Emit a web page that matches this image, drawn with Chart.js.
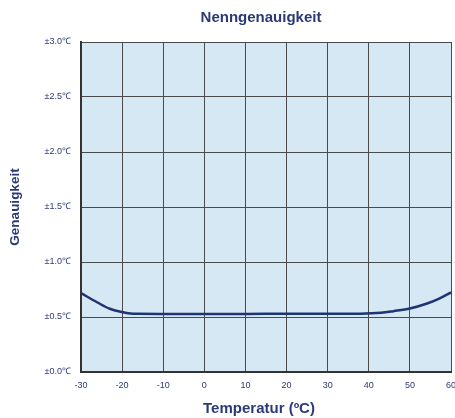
<!DOCTYPE html>
<html><head><meta charset="utf-8">
<script src="https://cdn.jsdelivr.net/npm/chart.js@4"></script>
<style>html,body{margin:0;padding:0;background:#fff}#wrap{width:455px;height:418px}</style>
</head><body><div id="wrap"><canvas id="c" width="455" height="418"></canvas></div>
<script>
const chartTitle = 'Nenngenauigkeit';
const xTitle = 'Temperatur (ºC)';
const yTitle = 'Genauigkeit';
const temps = [-30, -26, -23, -20, -18, -16, -10, 0, 10, 20, 30, 38, 43, 46, 50, 54, 57, 60];
const accuracy = [0.717, 0.632, 0.575, 0.545, 0.532, 0.529, 0.528, 0.528, 0.528, 0.529, 0.529, 0.53, 0.538, 0.553, 0.577, 0.62, 0.665, 0.723];
const yTicks = [0, 0.5, 1.0, 1.5, 2.0, 2.5, 3.0];
const xTicks = [-30, -20, -10, 0, 10, 20, 30, 40, 50, 60];
const navy = '#2b3a75';

const bgPlugin = {
  id: 'bg',
  beforeDraw(chart) {
    const {ctx, chartArea: a} = chart;
    ctx.save(); ctx.fillStyle = '#d7e8f5';
    ctx.fillRect(a.left, a.top, a.right - a.left, a.bottom - a.top);
    ctx.restore();
  },
  afterDraw(chart) {
    const {ctx, chartArea: a} = chart;
    ctx.save();
    ctx.fillStyle = navy; ctx.textAlign = 'center'; ctx.textBaseline = 'middle';
    ctx.font = 'bold 15px "Liberation Sans"';
    const cx = (a.left + a.right) / 2;
    ctx.fillText(chartTitle, cx - 5, 18);
    ctx.fillText(xTitle, cx - 7, 409);
    ctx.restore();
  }
};

new Chart(document.getElementById('c'), {
  type: 'line',
  data: { datasets: [{
    data: temps.map((t, i) => ({x: t, y: accuracy[i]})),
    borderColor: '#1f3472', borderWidth: 2.5, pointRadius: 0,
    cubicInterpolationMode: 'monotone', fill: false
  }]},
  options: {
    responsive: false, animation: false,
    layout: { padding: { left: 0, right: 4, top: 42, bottom: 0 } },
    plugins: {
      legend: { display: false }, tooltip: { enabled: false }, title: { display: false }
    },
    scales: {
      x: { type: 'linear', min: -30, max: 60,
        afterBuildTicks(s) { s.ticks = xTicks.map(v => ({value: v})); },
        afterFit(s) { s.height = 46; s.paddingLeft = 0; s.paddingRight = 0; },
        grid: { color: '#4a4a4a', lineWidth: 1, drawTicks: false },
        border: { color: '#333', width: 2 },
        ticks: { color: navy, padding: 8, maxRotation: 0, autoSkip: false,
          font: { family: 'Liberation Sans', size: 9 } }
      },
      y: { min: 0, max: 3,
        afterBuildTicks(s) { s.ticks = yTicks.map(v => ({value: v})); },
        afterFit(s) { s.width = 81; },
        grid: { color: '#4a4a4a', lineWidth: 1, drawTicks: false },
        border: { color: '#333', width: 2 },
        ticks: { color: navy, padding: 10, autoSkip: false,
          font: { family: 'Liberation Sans', size: 9 },
          callback: v => '±' + v.toFixed(1) + '℃' },
        title: { display: true, text: yTitle, color: navy,
          font: { family: 'Liberation Sans', size: 13.5, weight: 'bold' }, padding: { top: 7, bottom: 0 } }
      }
    }
  },
  plugins: [bgPlugin]
});
</script></body></html>
